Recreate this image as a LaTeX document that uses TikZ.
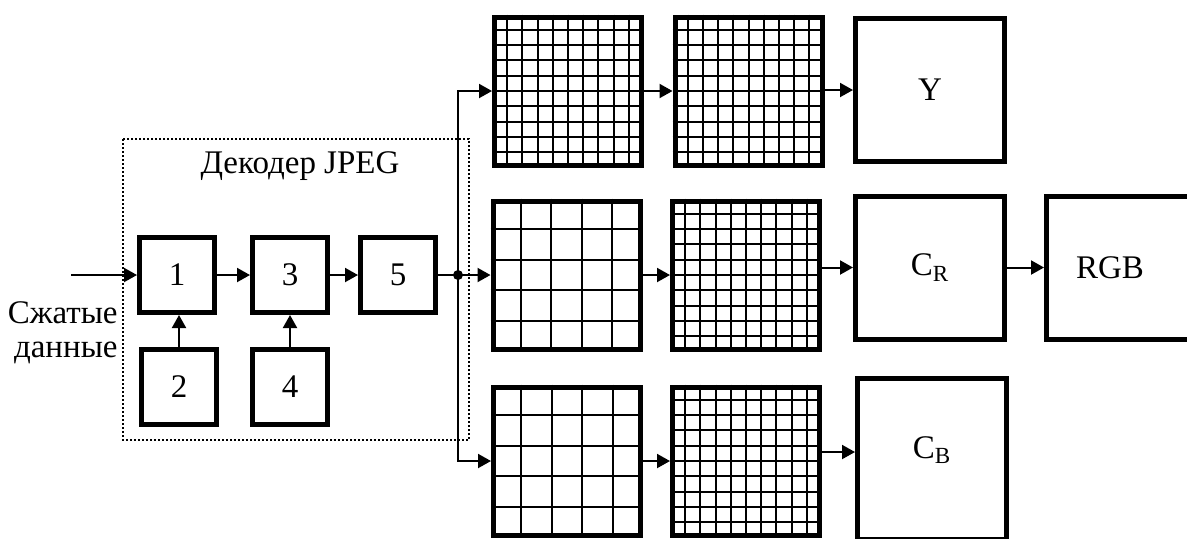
\documentclass[tikz,border=0pt]{standalone}
\usepackage{fontspec}
\setmainfont{Liberation Serif}
\usepackage{tikz}
\usetikzlibrary{
  arrows.meta,
  positioning,
  calc
}
\tikzset{
  dcnode/.style={
    draw, line width=2.5pt, inner sep=0pt, align=center,
    font=\fontsize{16.5}{17}\selectfont
  },
  stage/.style={dcnode, minimum width=37.5pt, minimum height=37.5pt},
  pixgrid/.style={dcnode, minimum width=73.5pt, minimum height=74pt},
  chan/.style={dcnode, minimum width=74.5pt, minimum height=71.5pt},
  gline/.style={line width=1pt},
  link/.style={-{Triangle[length=6.5pt,width=7pt]}, line width=1pt},
  bus/.style={line width=1pt},
  frame/.style={dash pattern=on 0.8pt off 1.2pt, line width=0.8pt},
  txt/.style={font=\fontsize{16.5}{17}\selectfont, inner sep=0pt, align=right}
}
% cells of a block: node, number of cells per side
\newcommand{\cellgrid}[2]{%
  \pgfmathtruncatemacro\ncut{#2-1}
  \foreach \i in {1,...,\ncut}{
    \draw[gline] ($(#1.north west)!\i/#2!(#1.north east)$) -- ($(#1.south west)!\i/#2!(#1.south east)$);
    \draw[gline] ($(#1.north west)!\i/#2!(#1.south west)$) -- ($(#1.north east)!\i/#2!(#1.south east)$);
  }
}

\begin{document}
\begin{tikzpicture}[x=0.5pt, y=-0.5pt]
  \useasboundingbox (0,0) rectangle (1187,538);

  % JPEG decoder
  \draw[frame] (123,139) rectangle (469,440);
  \node[txt] (dectitle) at (300,166) {Декодер JPEG};
  \node[stage] (b1) at (177,275) {1};
  \node[stage] (b3) at (290,275) {3};
  \node[stage] (b5) at (398,275) {5};
  \node[stage] (b2) at (179,387) {2};
  \node[stage] (b4) at (290,387) {4};
  \coordinate (src) at (71,275);
  \node[txt, anchor=east] (srctext) at (118,333) {Сжатые\\данные};

  \draw[link] (src) -- (b1.west);
  \draw[link] (b1) -- (b3);
  \draw[link] (b3) -- (b5);
  \draw[link] (b2.north) -- (b2.north |- b1.south);
  \draw[link] (b4.north) -- (b4.north |- b3.south);

  % pixel blocks
  \node[pixgrid] (ya) at (568,91) {};
  \node[pixgrid] (yb) at (748.5,91) {};
  \node[pixgrid] (ra) at (566.5,275) {};
  \node[pixgrid] (rb) at (746,275) {};
  \node[pixgrid] (ba) at (567,461) {};
  \node[pixgrid] (bb) at (746,461) {};
  \cellgrid{ya}{10}
  \cellgrid{yb}{10}
  \cellgrid{ra}{5}
  \cellgrid{rb}{10}
  \cellgrid{ba}{5}
  \cellgrid{bb}{10}

  % colour channels
  \node[chan] (yc) at (930,90) {Y};
  \node[chan] (cr) at (930,267.5) {C\textsubscript{R}};
  \node[chan, minimum height=80.5pt, label={[txt, yshift=4.5pt]center:C\textsubscript{B}}] (cb) at (932,459) {};
  \node[dcnode, minimum width=75.5pt, minimum height=71.5pt, label={[txt, xshift=-6pt]center:RGB}] (rgb) at (1122,267.5) {};

  % fan-out of the decoder output
  \coordinate (junc) at (458,275);
  \fill (junc) circle (2.5pt);
  \draw[link] (b5.east) -- (ra.west);
  \draw[link] (junc) |- (ya.west);
  \draw[link] (junc) |- (ba.west);

  \draw[link] (ya) -- (yb);
  \draw[link] (yb.east |- yc.west) -- (yc.west);
  \draw[link] (ra) -- (rb);
  \draw[link] (rb.east |- cr.west) -- (cr.west);
  \draw[link] (cr) -- (rgb);
  \draw[link] (ba) -- (bb);
  \draw[link] (bb.east |- 0,452) -- (bb.east |- 0,452 -| cb.west);
\end{tikzpicture}
\end{document}
